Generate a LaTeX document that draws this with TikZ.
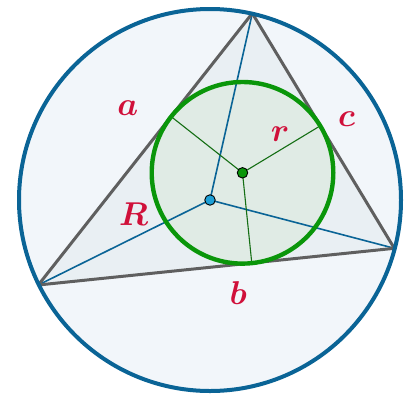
\RequirePackage{fix-cm}
\documentclass[tikz,border=0pt]{standalone}
\usepackage{bm}
\usetikzlibrary{calc}
\definecolor{circblue}{RGB}{10,100,150}
\definecolor{circfill}{RGB}{242,246,250}
\definecolor{trifill}{RGB}{233,239,243}
\definecolor{trigray}{RGB}{95,95,95}
\definecolor{ingreen}{RGB}{10,150,10}
\definecolor{infill}{RGB}{224,235,229}
\definecolor{rgreen}{RGB}{20,110,20}
\definecolor{dotblue}{RGB}{30,160,215}
\definecolor{lblred}{RGB}{208,16,58}
\tikzset{
  lbl/.style={text=lblred, font=\fontsize{33}{33}\selectfont, inner sep=0pt},
  bigR/.style={circblue, line width=1.6pt},
  smallr/.style={rgreen, line width=1.1pt},
  dotnode/.style={circle, draw=black, line width=0.9pt, inner sep=0pt, minimum size=10.5pt}
}
\begin{document}
\begin{tikzpicture}[x=1pt,y=-1pt]
\useasboundingbox (0,0) rectangle (406,394);
\coordinate (O) at (210,200);
\coordinate (A) at (252.3,13.3);
\coordinate (B) at (38.3,285);
\coordinate (C) at (394.3,248.3);
\coordinate (I) at (242.5,172.8);
\coordinate (Ta) at ($(A)!(I)!(B)$);
\coordinate (Tb) at ($(B)!(I)!(C)$);
\coordinate (Tc) at ($(C)!(I)!(A)$);
% fills
\fill[circfill] (O) circle (191pt);
\fill[trifill] (A) -- (B) -- (C) -- cycle;
\fill[infill] (I) circle (90.8pt);
% radii
\draw[bigR] (O) -- (A);
\draw[bigR] (O) -- (B);
\draw[bigR] (O) -- (C);
\draw[smallr] (I) -- (Ta);
\draw[smallr] (I) -- (Tb);
\draw[smallr] (I) -- (Tc);
% outlines
\draw[trigray, line width=3pt, line join=round] (A) -- (B) -- (C) -- cycle;
\draw[ingreen, line width=4.4pt] (I) circle (90.8pt);
\draw[circblue, line width=4pt] (O) circle (191pt);
% centres
\node[dotnode, fill=dotblue] (Odot) at (O) {};
\node[dotnode, fill=ingreen] (Idot) at (I) {};
% labels
\node[lbl] (la) at (127.7,108) {$\bm{a}$};
\node[lbl] (lc) at (346.7,119) {$\bm{c}$};
\node[lbl] (lr) at (280,134) {$\bm{r}$};
\node[lbl] (lR) at (133.5,214) {$\bm{R}$};
\node[lbl] (lb) at (238.3,293) {$\bm{b}$};
\end{tikzpicture}
\end{document}
